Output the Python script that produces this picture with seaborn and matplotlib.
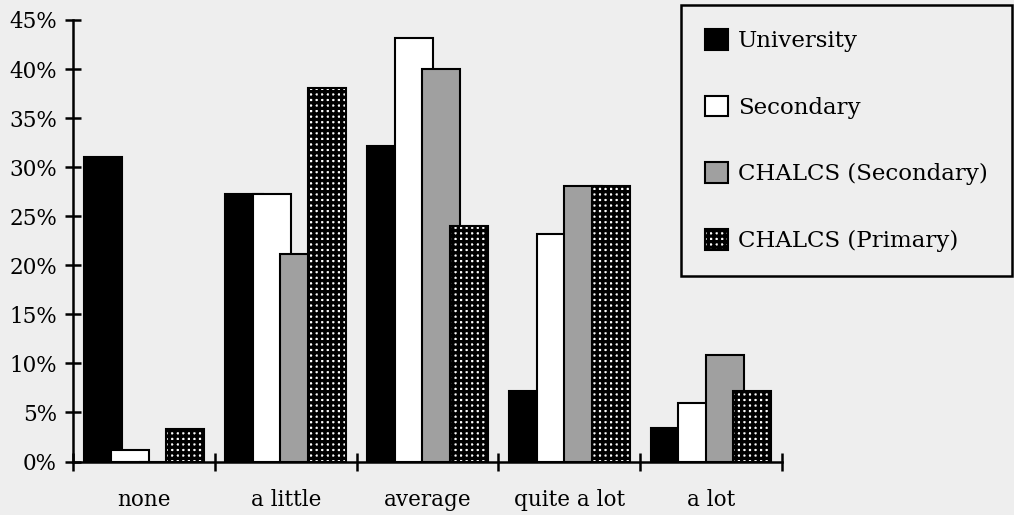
import numpy as np
import pandas as pd
import matplotlib
matplotlib.use("Agg")
import matplotlib.pyplot as plt
import seaborn as sns

# Survey data: share of respondents (%) per response level and group
levels = ["none", "a little", "average", "quite a lot", "a lot"]
groups = ["University", "Secondary", "CHALCS (Secondary)", "CHALCS (Primary)"]
university = [31.0, 27.3, 32.2, 7.2, 3.4]
secondary = [1.2, 27.3, 43.2, 23.2, 6.0]
chalcs_secondary = [0.0, 21.2, 40.0, 28.1, 10.9]
chalcs_primary = [3.3, 38.1, 24.0, 28.1, 7.2]
y_ticks = [0, 5, 10, 15, 20, 25, 30, 35, 40, 45]

series = [university, secondary, chalcs_secondary, chalcs_primary]
df = pd.DataFrame(
    [(lvl, grp, vals[i]) for grp, vals in zip(groups, series) for i, lvl in enumerate(levels)],
    columns=["level", "group", "pct"],
)

sns.set_style("ticks")
bg = "#eeeeee"
plt.rcParams["font.family"] = ["DejaVu Serif"]
plt.rcParams["hatch.linewidth"] = 2.4
plt.rcParams["axes.edgecolor"] = "black"
plt.rcParams["text.color"] = "black"
plt.rcParams["xtick.color"] = "black"
plt.rcParams["ytick.color"] = "black"
plt.rcParams["xtick.labelcolor"] = "black"
plt.rcParams["ytick.labelcolor"] = "black"

fig = plt.figure(figsize=(10.14, 5.15), dpi=100, facecolor=bg)
ax = fig.add_axes([73 / 1014, 1 - 461.5 / 515, (782 - 73) / 1014, (461.5 - 20) / 515])
ax.set_facecolor(bg)

palette = ["black", "white", "#a0a0a0", "white"]
sns.barplot(
    data=df, x="level", y="pct", hue="group", order=levels, hue_order=groups,
    palette=palette, saturation=1, edgecolor="black", linewidth=1.5,
    errorbar=None, legend=False, ax=ax,
)

# Overlapping clustered bars: each group steps right and is drawn over the previous one
stride, bw = 0.194, 0.268
for j, cont in enumerate(ax.containers):
    for p in cont.patches:
        i = round(p.get_x() + p.get_width() / 2)
        c = i + (j - 1.5) * stride
        p.set_x(c - bw / 2)
        p.set_width(bw)
        p.set_zorder(2 + j)
        if j == 3:
            p.set_hatch("+++")

ax.set_xlim(-0.5, 4.5)
ax.set_ylim(0, 45)
ax.set_yticks(y_ticks)
ax.set_yticklabels([f"{v}%" for v in y_ticks])
ax.set_xlabel("")
ax.set_ylabel("")

# Ticks on category boundaries, labels centred under each category
ax.set_xticks(np.arange(-0.5, 5, 1))
ax.set_xticklabels([])
ax.set_xticks(range(len(levels)), minor=True)
ax.set_xticklabels(levels, minor=True)
ax.tick_params(axis="x", which="minor", length=0, pad=20, labelsize=15.5)
ax.tick_params(axis="x", which="major", direction="inout", length=13, width=1.8)
ax.tick_params(axis="y", direction="inout", length=12, width=1.8, pad=5.5, labelsize=15.5)

sns.despine(ax=ax)
for side in ("left", "bottom"):
    ax.spines[side].set_linewidth(1.8)
    ax.spines[side].set_color("black")
    ax.spines[side].set_zorder(10)

handles = [cont.patches[1] for cont in ax.containers]
leg = fig.legend(
    handles, groups, loc="upper right", bbox_to_anchor=(1012 / 1014, 1 - 5 / 515),
    frameon=True, fancybox=False, edgecolor="black", facecolor=bg, framealpha=1,
    fontsize=16.5, handlelength=1.0, handleheight=1.0, handletextpad=0.45,
    labelspacing=1.9, borderpad=1.05, borderaxespad=0,
)
leg.get_frame().set_linewidth(1.8)

fig.savefig("out.png", dpi=100, facecolor=bg)
